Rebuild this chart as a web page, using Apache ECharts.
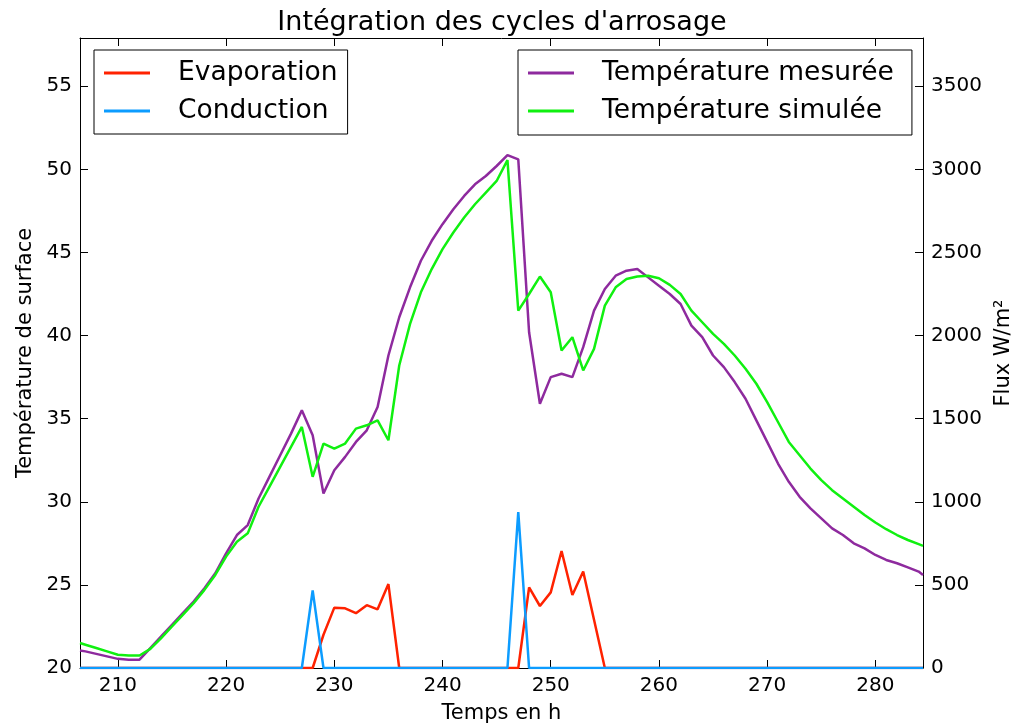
<!DOCTYPE html>
<html>
<head>
<meta charset="utf-8">
<script src="https://cdn.jsdelivr.net/npm/echarts@6/dist/echarts.min.js"></script>
<style>
html,body{margin:0;padding:0;background:#fff;}
#chart{width:1011px;height:726px;}
</style>
</head>
<body>
<div id="chart"></div>
<script>
// ---- data ----
const hours = [206.5,207,208,209,210,211,212,213,214,215,216,217,218,219,220,221,222,223,224,225,226,227,228,229,230,231,232,233,234,235,236,237,238,239,240,241,242,243,244,245,246,247,248,249,250,251,252,253,254,255,256,257,258,259,260,261,262,263,264,265,266,267,268,269,270,271,272,273,274,275,276,277,278,279,280,281,282,283,284,284.4];

const tempMesuree = [21.05,21.0,20.85,20.7,20.55,20.5,20.5,21.2,21.9,22.6,23.3,24.0,24.8,25.7,26.9,28.0,28.6,30.2,31.5,32.8,34.1,35.5,34.0,30.5,31.9,32.7,33.6,34.3,35.7,38.8,41.1,42.9,44.5,45.7,46.7,47.6,48.4,49.1,49.6,50.2,50.85,50.6,40.2,35.9,37.5,37.7,37.5,39.3,41.5,42.8,43.6,43.9,44.0,43.5,43.0,42.5,41.9,40.6,39.9,38.8,38.1,37.2,36.2,34.9,33.6,32.3,31.2,30.3,29.6,29.0,28.4,28.0,27.5,27.2,26.8,26.5,26.3,26.05,25.8,25.6];

const tempSimulee = [21.5,21.4,21.2,21.0,20.8,20.75,20.75,21.15,21.8,22.5,23.2,23.9,24.7,25.6,26.7,27.6,28.1,29.7,30.9,32.1,33.3,34.5,31.5,33.5,33.2,33.5,34.4,34.6,34.9,33.7,38.2,40.7,42.6,44.0,45.2,46.2,47.1,47.9,48.6,49.3,50.55,41.5,42.5,43.55,42.6,39.1,39.9,37.9,39.2,41.8,42.9,43.4,43.55,43.6,43.45,43.05,42.5,41.5,40.8,40.1,39.5,38.8,38.0,37.1,36.0,34.8,33.6,32.8,32.0,31.3,30.7,30.2,29.7,29.2,28.75,28.35,28.0,27.7,27.45,27.35];

const evaporation = [0,0,0,0,0,0,0,0,0,0,0,0,0,0,0,0,0,0,0,0,0,0,0,200,363,359,330,378,353,505,0,0,0,0,0,0,0,0,0,0,0,0,485,373,455,704,439,580,290,0,0,0,0,0,0,0,0,0,0,0,0,0,0,0,0,0,0,0,0,0,0,0,0,0,0,0,0,0,0,0];

const conduction = [0,0,0,0,0,0,0,0,0,0,0,0,0,0,0,0,0,0,0,0,0,0,467,0,0,0,0,0,0,0,0,0,0,0,0,0,0,0,0,0,0,938,0,0,0,0,0,0,0,0,0,0,0,0,0,0,0,0,0,0,0,0,0,0,0,0,0,0,0,0,0,0,0,0,0,0,0,0,0,0];

const xTicks = [210,220,230,240,250,260,270,280];
const leftTicks = [20,25,30,35,40,45,50,55];
const rightTicks = [0,500,1000,1500,2000,2500,3000,3500];

// ---- chart ----
const FONT = 'DejaVu Sans';
const pair = (vals) => hours.map((h, i) => [h, vals[i]]);

const chart = echarts.init(document.getElementById('chart'), null, {renderer: 'canvas'});

const axisLineStyle = {show: true, onZero: false, lineStyle: {color: '#000', width: 1}};
const tickStyle = {show: true, inside: true, length: 8, lineStyle: {color: '#000', width: 1}};
const labelStyle = {color: '#000', fontFamily: FONT, fontSize: 20, margin: 8, formatter: (v) => String(v)};

const legendBase = {
  orient: 'vertical',
  top: 50,
  itemGap: 8,
  itemWidth: 46, itemHeight: 3,
  icon: 'rect',
  selectedMode: false,
  borderColor: '#000', borderWidth: 1, backgroundColor: '#fff',
  textStyle: {color: '#000', fontFamily: FONT, fontSize: 26.5, lineHeight: 30, padding: [0, 0, 0, 23]}
};

chart.setOption({
  animation: false,
  backgroundColor: '#fff',
  title: {
    text: "Intégration des cycles d'arrosage",
    left: 497,
    top: 4,
    textAlign: 'center',
    textStyle: {color: '#000', fontFamily: FONT, fontSize: 27, fontWeight: 'normal'}
  },
  grid: {left: 80, right: 88, top: 38, bottom: 58, containLabel: false, outerBoundsMode: 'none'},
  legend: [
    Object.assign({}, legendBase, {data: ['Evaporation', 'Conduction'], left: 94, padding: [8, 10, 8, 10]}),
    Object.assign({}, legendBase, {data: ['Température mesurée', 'Température simulée'], left: 518, padding: [8, 18, 9, 10]})
  ],
  xAxis: [
    {
      type: 'value', position: 'bottom', min: 206.5, max: 284.4,
      name: 'Temps en h', nameLocation: 'middle', nameGap: 35,
      nameTextStyle: {color: '#000', fontFamily: FONT, fontSize: 21},
      axisLine: axisLineStyle,
      axisTick: Object.assign({}, tickStyle, {customValues: xTicks}),
      axisLabel: Object.assign({}, labelStyle, {customValues: xTicks}),
      splitLine: {show: false}
    },
    {
      type: 'value', position: 'top', min: 206.5, max: 284.4,
      axisLine: axisLineStyle,
      axisTick: Object.assign({}, tickStyle, {customValues: xTicks}),
      axisLabel: {show: false},
      splitLine: {show: false}
    }
  ],
  yAxis: [
    {
      type: 'value', position: 'left', min: 20, max: 57.9,
      name: 'Température de surface', nameLocation: 'middle', nameGap: 44,
      nameTextStyle: {color: '#000', fontFamily: FONT, fontSize: 21},
      axisLine: axisLineStyle,
      axisTick: Object.assign({}, tickStyle, {customValues: leftTicks}),
      axisLabel: Object.assign({}, labelStyle, {customValues: leftTicks}),
      splitLine: {show: false}
    },
    {
      type: 'value', position: 'right', min: 0, max: 3790,
      name: 'Flux W/m²', nameLocation: 'middle', nameGap: 66,
      nameTextStyle: {color: '#000', fontFamily: FONT, fontSize: 21},
      axisLine: axisLineStyle,
      axisTick: Object.assign({}, tickStyle, {customValues: rightTicks}),
      axisLabel: Object.assign({}, labelStyle, {customValues: rightTicks}),
      splitLine: {show: false}
    }
  ],
  series: [
    {name: 'Température mesurée', type: 'line', xAxisIndex: 0, yAxisIndex: 0, data: pair(tempMesuree),
     showSymbol: false, color: '#8e2a9e', lineStyle: {width: 2.5, color: '#8e2a9e'}},
    {name: 'Température simulée', type: 'line', xAxisIndex: 0, yAxisIndex: 0, data: pair(tempSimulee),
     showSymbol: false, color: '#10f010', lineStyle: {width: 2.5, color: '#10f010'}},
    {name: 'Evaporation', type: 'line', xAxisIndex: 0, yAxisIndex: 1, data: pair(evaporation),
     showSymbol: false, color: '#ff2200', lineStyle: {width: 2.5, color: '#ff2200'}},
    {name: 'Conduction', type: 'line', xAxisIndex: 0, yAxisIndex: 1, data: pair(conduction),
     showSymbol: false, color: '#0c9cff', lineStyle: {width: 2.5, color: '#0c9cff'}}
  ]
});
</script>
</body>
</html>
